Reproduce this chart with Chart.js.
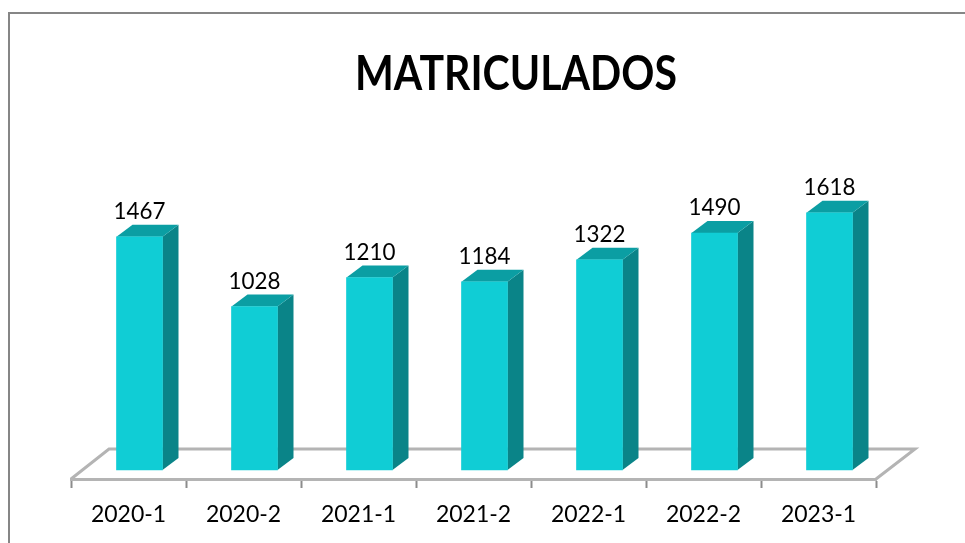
<!DOCTYPE html>
<html>
<head>
<meta charset="utf-8">
<title>MATRICULADOS</title>
<script src="https://cdn.jsdelivr.net/npm/chart.js@4"></script>
<style>
    html, body { margin: 0; padding: 0; background: #ffffff; }
    canvas { display: block; }
</style>
</head>
<body>
<canvas id="matriculados_chart" width="965" height="543"></canvas>
<script>
// データ
const categories = ['2020-1', '2020-2', '2021-1', '2021-2', '2022-1', '2022-2', '2023-1'];
const matriculados = [1467, 1028, 1210, 1184, 1322, 1490, 1618];
const chart_title = 'MATRICULADOS';

const font_family = 'Lato, "Open Sans", sans-serif';
// 奥行き
const depth_x = 16;
const depth_y = 12;
// 棒を目盛の中心から右へずらす量
const bar_shift = 11;

// 枠線とタイトル
const framePlugin = {
    id: 'frame',
    beforeDraw(chart) {
        const ctx = chart.ctx;
        ctx.save();
        ctx.strokeStyle = '#868686';
        ctx.lineWidth = 2;
        ctx.beginPath();
        ctx.moveTo(9, 543);
        ctx.lineTo(9, 13);
        ctx.lineTo(965, 13);
        ctx.stroke();
        ctx.fillStyle = '#000000';
        ctx.font = 'bold 47px ' + font_family;
        ctx.textAlign = 'center';
        ctx.textBaseline = 'alphabetic';
        ctx.fillText(chart_title, 516, 90, 322);
        ctx.restore();
    }
};

// 床と棒の側面・上面
const floorPlugin = {
    id: 'floor',
    beforeDatasetsDraw(chart) {
        const ctx = chart.ctx;
        const area = chart.chartArea;
        ctx.save();
        ctx.strokeStyle = '#b4b4b4';
        ctx.lineWidth = 3;
        ctx.beginPath();
        ctx.moveTo(area.left, area.bottom);
        ctx.lineTo(area.left + 38, area.bottom - 30);
        ctx.lineTo(area.right + 39, area.bottom - 30);
        ctx.lineTo(area.right, area.bottom);
        ctx.stroke();
        ctx.restore();

        // 棒本体の描画が終わるまで右へずらす
        ctx.save();
        ctx.translate(bar_shift, 0);
        chart.getDatasetMeta(0).data.forEach(function(bar) {
            const left = bar.x - bar.width / 2;
            const right = bar.x + bar.width / 2;
            ctx.fillStyle = '#0a8488';
            ctx.beginPath();
            ctx.moveTo(right, bar.y);
            ctx.lineTo(right + depth_x, bar.y - depth_y);
            ctx.lineTo(right + depth_x, bar.base - depth_y);
            ctx.lineTo(right, bar.base);
            ctx.closePath();
            ctx.fill();
            ctx.fillStyle = '#0b9ea3';
            ctx.beginPath();
            ctx.moveTo(left, bar.y);
            ctx.lineTo(left + depth_x, bar.y - depth_y);
            ctx.lineTo(right + depth_x, bar.y - depth_y);
            ctx.lineTo(right, bar.y);
            ctx.closePath();
            ctx.fill();
        });
    },
    afterDatasetsDraw(chart) {
        const ctx = chart.ctx;
        ctx.restore();
        // データラベル
        ctx.save();
        ctx.fillStyle = '#000000';
        ctx.font = '24px ' + font_family;
        ctx.textAlign = 'center';
        ctx.textBaseline = 'alphabetic';
        chart.getDatasetMeta(0).data.forEach(function(bar, index) {
            ctx.fillText(String(matriculados[index]), bar.x + bar_shift, bar.y - 18, 52);
        });
        ctx.restore();
    }
};

const ctx = document.getElementById('matriculados_chart').getContext('2d');
new Chart(ctx, {
    type: 'bar',
    data: {
        labels: categories,
        datasets: [{
            data: matriculados,
            backgroundColor: '#10cdd5',
            borderWidth: 0,
            barThickness: 46
        }]
    },
    options: {
        responsive: false,
        animation: false,
        layout: {
            padding: { left: 71, right: 89, top: 152, bottom: 0 }
        },
        scales: {
            x: {
                afterFit: function(scale) {
                    scale.height = 64;
                },
                border: { color: '#b4b4b4', width: 3 },
                grid: {
                    drawOnChartArea: false,
                    drawTicks: true,
                    tickLength: 9,
                    tickColor: '#8c8c8c',
                    tickWidth: 2
                },
                ticks: {
                    autoSkip: false,
                    maxRotation: 0,
                    padding: 13,
                    color: '#000000',
                    font: { family: font_family, size: 23 }
                }
            },
            y: {
                display: false,
                min: -57,
                max: 2000
            }
        },
        plugins: {
            legend: { display: false },
            tooltip: { enabled: false }
        }
    },
    plugins: [framePlugin, floorPlugin]
});
</script>
</body>
</html>
